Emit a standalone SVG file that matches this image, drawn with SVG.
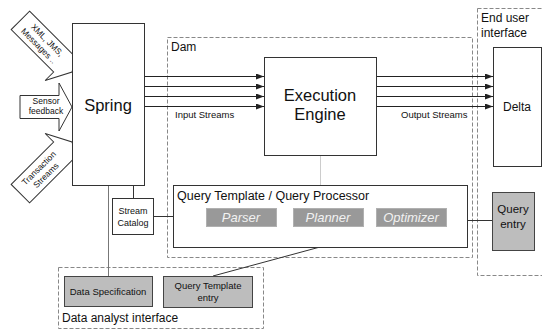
<svg xmlns="http://www.w3.org/2000/svg" width="542" height="331" viewBox="0 0 542 331">
  <defs>
    <style>
      text { font-family: "Liberation Sans", Arial, sans-serif; fill: #111; }
      .box { fill: #fff; stroke: #333; stroke-width: 1; }
      .grey { fill: #bdbdbd; stroke: #444; stroke-width: 1; }
      .stage { fill: #999; stroke: #b0b0b0; stroke-width: 1; }
      .stage-t { fill: #f2f2f2; font-style: italic; font-size: 13px; text-anchor: middle; }
      .zone { fill: none; stroke: #888; stroke-width: 1; stroke-dasharray: 4 2; }
      .flow { stroke: #222; stroke-width: 1; fill: none; marker-end: url(#head); }
      .link { stroke: #333; stroke-width: 1; fill: none; }
      .feed { fill: #fff; stroke: #333; stroke-width: 1; }
      .small { font-size: 9.5px; }
      .c { text-anchor: middle; }
    </style>
    <marker id="head" viewBox="0 0 8 6" refX="8" refY="3" markerWidth="8" markerHeight="6" markerUnits="userSpaceOnUse" orient="auto">
      <path d="M0,0 L8,3 L0,6 Z" fill="#222"/>
    </marker>
    <marker id="headLight" viewBox="0 0 6 4" refX="6" refY="2" markerWidth="6" markerHeight="4" markerUnits="userSpaceOnUse" orient="auto">
      <path d="M0,0 L6,2 L0,4 Z" fill="#bbb"/>
    </marker>
  </defs>

  <!-- grouping zones -->
  <g id="zone-dam">
    <rect class="zone" x="167.5" y="37.5" width="305" height="220"/>
    <text x="171" y="51" font-size="12">Dam</text>
  </g>
  <g id="zone-end-user">
    <rect class="zone" x="477.5" y="8.5" width="80" height="267"/>
    <text x="481" y="22" font-size="12">End user</text>
    <text x="481" y="37" font-size="12">interface</text>
  </g>
  <g id="zone-data-analyst">
    <rect class="zone" x="58.5" y="267.5" width="205" height="61"/>
    <text x="62" y="322" font-size="12">Data analyst interface</text>
  </g>

  <!-- connectors -->
  <g id="connectors">
    <line class="flow" x1="144" y1="76.5" x2="264" y2="76.5"/>
    <line class="flow" x1="144" y1="86.5" x2="264" y2="86.5"/>
    <line class="flow" x1="144" y1="96.5" x2="264" y2="96.5"/>
    <line class="flow" x1="144" y1="106.5" x2="264" y2="106.5"/>
    <line class="flow" x1="376" y1="76.5" x2="493" y2="76.5"/>
    <line class="flow" x1="376" y1="86.5" x2="493" y2="86.5"/>
    <line class="flow" x1="376" y1="96.5" x2="493" y2="96.5"/>
    <line class="flow" x1="376" y1="106.5" x2="493" y2="106.5"/>
    <line x1="320.5" y1="155" x2="320.5" y2="185" stroke="#ccc" stroke-width="1"/>
    <line class="link" x1="133.5" y1="185" x2="133.5" y2="198"/>
    <line x1="108.5" y1="185" x2="108.5" y2="276" stroke="#777" stroke-width="1"/>
    <line class="link" x1="153" y1="216.5" x2="173" y2="216.5"/>
    <line class="link" x1="467" y1="220.5" x2="492" y2="220.5"/>
    <line class="link" x1="320" y1="247" x2="213" y2="276"/>
    <line x1="276" y1="217.5" x2="293" y2="217.5" stroke="#bbb" stroke-width="1" marker-end="url(#headLight)"/>
    <line x1="363" y1="217.5" x2="376" y2="217.5" stroke="#bbb" stroke-width="1" marker-end="url(#headLight)"/>
    <text class="small" x="175" y="118" font-size="9.5">Input Streams</text>
    <text class="small" x="401" y="118" font-size="9.5">Output Streams</text>
  </g>

  <!-- incoming feeds -->
  <g id="feed-messages" transform="translate(72,72) rotate(45)">
    <path class="feed" d="M-73,-13 L-13,-13 L-13,-25 L0,0 L-13,25 L-13,13 L-73,13 Z"/>
    <text class="c" x="-40" y="-2" font-size="8.5">XML, JMS,</text>
    <text class="c" x="-42" y="8" font-size="8.5">Messages ..</text>
  </g>
  <g id="feed-sensor" transform="translate(72,107)">
    <path class="feed" d="M-52,-11.5 L-13,-11.5 L-13,-24 L0,0 L-13,24 L-13,11.5 L-52,11.5 Z"/>
    <text class="c" x="-26" y="-3" font-size="8.5">Sensor</text>
    <text class="c" x="-26" y="7" font-size="8.5">feedback</text>
  </g>
  <g id="feed-transactions" transform="translate(72,142) rotate(-45)">
    <path class="feed" d="M-73,-13 L-13,-13 L-13,-25 L0,0 L-13,25 L-13,13 L-73,13 Z"/>
    <text class="c" x="-42" y="-2" font-size="8.5">Transaction</text>
    <text class="c" x="-42" y="8" font-size="8.5">Streams</text>
  </g>

  <!-- nodes -->
  <g id="spring">
    <rect class="box" x="72.5" y="23.5" width="72" height="162"/>
    <text class="c" x="108" y="111" font-size="16.5">Spring</text>
  </g>
  <g id="stream-catalog">
    <rect class="box" x="112.5" y="198.5" width="41" height="36"/>
    <text class="c" x="133" y="214" font-size="9">Stream</text>
    <text class="c" x="133" y="226" font-size="9">Catalog</text>
  </g>
  <g id="execution-engine">
    <rect class="box" x="264.5" y="57.5" width="112" height="98"/>
    <text class="c" x="320" y="101" font-size="16.5">Execution</text>
    <text class="c" x="320" y="120" font-size="16.5">Engine</text>
  </g>
  <g id="query-processor">
    <rect class="box" x="173.5" y="185.5" width="294" height="62"/>
    <text x="177" y="200" font-size="12.5">Query Template / Query Processor</text>
  </g>
  <g id="parser">
    <rect class="stage" x="206.5" y="208.5" width="70" height="18"/>
    <text class="stage-t" x="241" y="222">Parser</text>
  </g>
  <g id="planner">
    <rect class="stage" x="293.5" y="208.5" width="70" height="18"/>
    <text class="stage-t" x="328" y="222">Planner</text>
  </g>
  <g id="optimizer">
    <rect class="stage" x="376.5" y="208.5" width="70" height="18"/>
    <text class="stage-t" x="411" y="222">Optimizer</text>
  </g>
  <g id="delta">
    <rect class="box" x="493.5" y="47.5" width="48" height="119"/>
    <text class="c" x="517" y="111" font-size="12">Delta</text>
  </g>
  <g id="query-entry">
    <rect class="grey" x="492.5" y="192.5" width="42" height="58"/>
    <text class="c" x="513" y="213" font-size="11.5">Query</text>
    <text class="c" x="513" y="228" font-size="11.5">entry</text>
  </g>
  <g id="data-specification">
    <rect class="grey" x="64.5" y="276.5" width="88" height="30"/>
    <text class="c" x="108" y="294.5" font-size="9.5">Data Specification</text>
  </g>
  <g id="query-template-entry">
    <rect class="grey" x="163.5" y="276.5" width="89" height="31"/>
    <text class="c" x="208" y="289" font-size="9.5">Query Template</text>
    <text class="c" x="208" y="300.5" font-size="9.5">entry</text>
  </g>
</svg>
